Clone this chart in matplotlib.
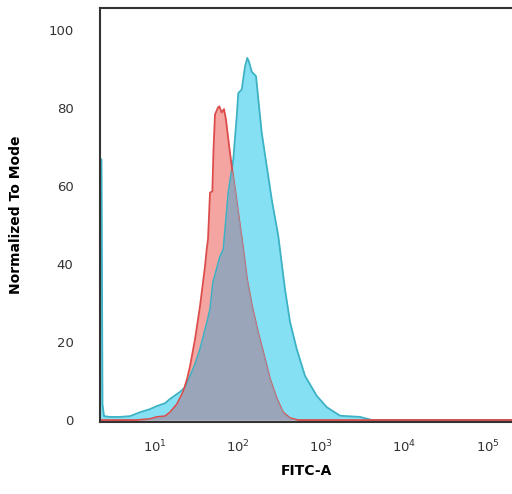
import numpy as np
import matplotlib
matplotlib.use("Agg")
import matplotlib.pyplot as plt
from matplotlib.ticker import FixedLocator, NullLocator

# ---- data (log10 of FITC-A, % of mode) ----
blue_logx = [0.339, 0.357, 0.369, 0.387, 0.459, 0.579, 0.700, 0.820, 0.940, 1.024,
             1.120, 1.180, 1.300, 1.361, 1.421, 1.481, 1.541, 1.625, 1.661, 1.697,
             1.781, 1.821, 1.881, 1.941, 1.982, 2.001, 2.042, 2.082, 2.109, 2.130,
             2.162, 2.214, 2.242, 2.282, 2.343, 2.403, 2.482, 2.502, 2.562, 2.623,
             2.703, 2.803, 2.944, 3.064, 3.224, 3.464, 3.608, 5.290]
blue_vals = [66.8, 66.8, 4.1, 1.0, 0.8, 0.8, 1.0, 2.0, 2.8, 3.6,
             4.3, 5.4, 7.2, 8.4, 11.3, 14.3, 18.2, 25.1, 28.4, 35.3,
             41.9, 43.7, 58.3, 66.8, 77.8, 83.8, 84.7, 90.6, 92.8, 91.8,
             89.3, 88.1, 82.1, 73.7, 65.0, 56.5, 47.1, 43.7, 33.5, 25.1,
             18.2, 11.3, 6.2, 3.3, 1.1, 0.8, 0.0, 0.0]

red_logx = [0.339, 0.784, 0.940, 1.024, 1.120, 1.180, 1.264, 1.337, 1.385, 1.421,
            1.481, 1.541, 1.601, 1.621, 1.637, 1.661, 1.689, 1.703, 1.721, 1.757,
            1.773, 1.802, 1.829, 1.853, 1.881, 1.922, 1.962, 2.022, 2.061, 2.106,
            2.166, 2.238, 2.322, 2.382, 2.466, 2.538, 2.623, 2.719, 5.290]
red_vals = [0.0, 0.0, 0.3, 0.8, 1.0, 2.0, 4.1, 7.2, 10.5, 13.8,
            20.7, 29.2, 39.4, 43.7, 46.3, 58.3, 58.6, 69.3, 78.3, 80.1,
            80.4, 78.8, 79.7, 77.0, 71.9, 65.0, 59.1, 49.7, 43.7, 36.1,
            29.2, 22.5, 15.6, 10.5, 5.4, 2.0, 0.5, 0.0, 0.0]

xtick_exps = [1, 2, 3, 4, 5]
yticks = [0, 20, 40, 60, 80, 100]

# ---- figure ----
fig = plt.figure(figsize=(5.12, 4.94), dpi=100)
ax = fig.add_axes([100 / 512, 1 - 422 / 494, 1 - 100 / 512, (422 - 8) / 494])

bx = 10 ** np.array(blue_logx)
by = np.array(blue_vals)
rx = 10 ** np.array(red_logx)
ry = np.array(red_vals)

# common grid for the overlap region
grid_log = np.union1d(blue_logx, red_logx)
gb = np.interp(grid_log, blue_logx, blue_vals)
gr = np.interp(grid_log, red_logx, red_vals)
gx = 10 ** grid_log
overlap = np.minimum(gb, gr)

ax.fill_between(bx, by, 0, color="#86e0f4", lw=0, zorder=1.0)
ax.fill_between(rx, ry, 0, color="#f5a5a1", lw=0, zorder=1.1)
ax.plot(bx, by, color="#3cb2c4", lw=1.3, zorder=2.2)
ax.plot(rx, ry, color="#dc4c4a", lw=1.3, zorder=2.2)
ax.fill_between(gx, overlap, 0, color="#8ca6be", alpha=0.85, lw=0, zorder=2.3)

ax.set_xscale("log")
ax.set_xlim(10 ** 0.339, 10 ** 5.29)
ax.set_ylim(-0.5, 105.6)

ax.xaxis.set_major_locator(FixedLocator([10.0 ** e for e in xtick_exps]))
ax.xaxis.set_minor_locator(NullLocator())
ax.set_xticklabels([r"$10^{%d}$" % e for e in xtick_exps])
ax.set_yticks(yticks)
ax.set_yticklabels([str(v) for v in yticks])

ax.tick_params(axis="both", length=0, colors="#333333", labelsize=9.5)
ax.tick_params(axis="x", pad=12)
ax.tick_params(axis="y", pad=19)

for s in ["left", "top", "bottom"]:
    ax.spines[s].set_color("#333333")
    ax.spines[s].set_linewidth(1.5)
    ax.spines[s].set_zorder(2.5)
ax.spines["right"].set_visible(False)

ax.set_xlabel("FITC-A", fontsize=10, fontweight="bold", labelpad=6)
ax.set_ylabel("Normalized To Mode", fontsize=10, fontweight="bold", labelpad=18)

fig.savefig("out.png", dpi=100)
